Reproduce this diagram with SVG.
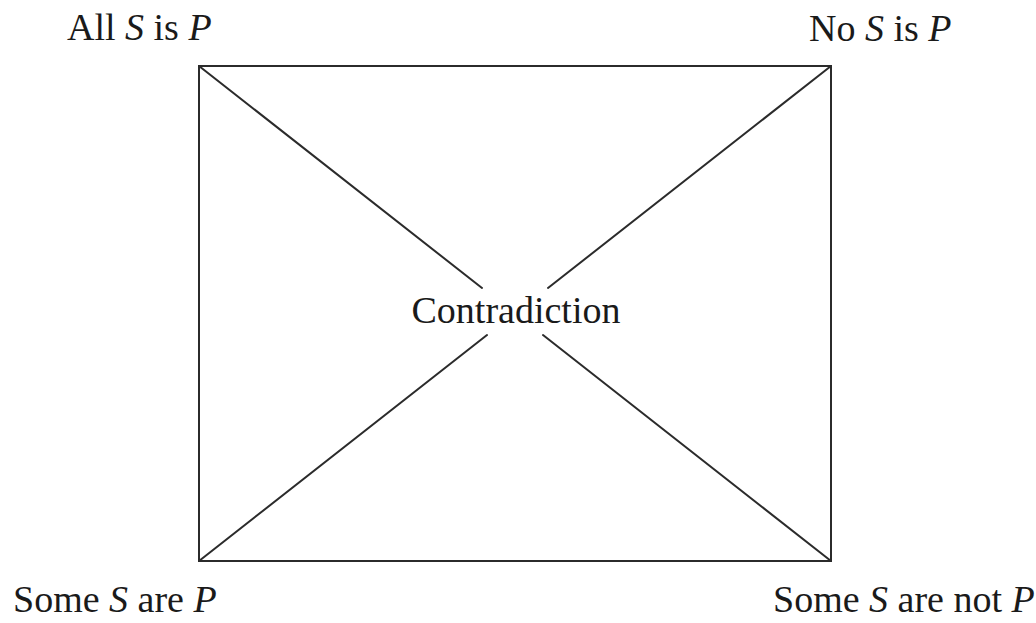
<svg xmlns="http://www.w3.org/2000/svg" width="1036" height="623" viewBox="0 0 1036 623">
<style>
.lbl{font-family:"Liberation Serif","Times New Roman",serif;font-size:38px;fill:#1a1a1a}
.it{font-style:italic}
.ln{stroke:#2b2b2b;stroke-width:2;fill:none;stroke-linecap:round}
</style>
<rect width="1036" height="623" fill="#ffffff"/>
<g id="connectors">
<rect class="ln" x="199" y="66" width="632" height="495"/>
<line class="ln" x1="199" y1="66" x2="482" y2="288"/>
<line class="ln" x1="831" y1="66" x2="548" y2="288"/>
<line class="ln" x1="199" y1="561" x2="487" y2="335"/>
<line class="ln" x1="831" y1="561" x2="543" y2="335"/>
</g>
<g id="node-all"><text class="lbl" x="67" y="40">All <tspan class="it">S</tspan> is <tspan class="it">P</tspan></text></g>
<g id="node-no"><text class="lbl" x="809" y="41">No <tspan class="it">S</tspan> is <tspan class="it">P</tspan></text></g>
<g id="node-some"><text class="lbl" x="13" y="612">Some <tspan class="it">S</tspan> are <tspan class="it">P</tspan></text></g>
<g id="node-somenot"><text class="lbl" x="773" y="612">Some <tspan class="it">S</tspan> are not <tspan class="it">P</tspan></text></g>
<g id="node-center"><text class="lbl" x="516" y="323" text-anchor="middle">Contradiction</text></g>
</svg>
